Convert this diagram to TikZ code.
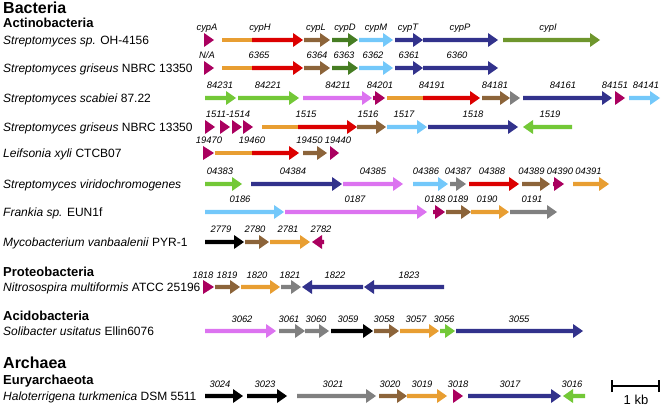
\documentclass[tikz,border=0pt]{standalone}
\usepackage{fontspec}
\setmainfont{Liberation Sans}
\definecolor{cMag}{RGB}{170,0,95}
\definecolor{cOra}{RGB}{232,158,50}
\definecolor{cRed}{RGB}{220,0,0}
\definecolor{cBro}{RGB}{140,100,58}
\definecolor{cDG}{RGB}{70,125,35}
\definecolor{cLB}{RGB}{115,200,250}
\definecolor{cNav}{RGB}{50,50,140}
\definecolor{cOli}{RGB}{110,150,45}
\definecolor{cGrn}{RGB}{115,200,55}
\definecolor{cPnk}{RGB}{220,115,240}
\definecolor{cGry}{RGB}{128,128,128}
\newcounter{lbn}
% gene arrow: color, y, tail x, tip x
\newcommand\gene[4]{%
  \pgfmathsetmacro\gnD{(#4>#3)?1:-1}%
  \pgfmathsetmacro\gnB{#4-\gnD*10}%
  \fill[#1] (#3,#2-2.2) -- (\gnB,#2-2.2) -- (\gnB,#2-7) -- (#4,#2) -- (\gnB,#2+7) -- (\gnB,#2+2.2) -- (#3,#2+2.2) -- cycle;}
% triangle only
\newcommand\gtri[4]{\fill[#1] (#3,#2-7) -- (#4,#2) -- (#3,#2+7) -- cycle;}
% plain shaft segment
\newcommand\gbar[4]{\fill[#1] (#3,#2-2.2) rectangle (#4,#2+2.2);}
% gene label
\newcommand\lab[3]{\stepcounter{lbn}\node[glab] (lb\arabic{lbn}) at (#1,#2) {#3};}
\begin{document}
\begin{tikzpicture}[x=1pt,y=-1pt,
  glab/.style={anchor=base,inner sep=0pt,font=\fontsize{9.4}{11}\selectfont\itshape},
  sp/.style={anchor=base west,inner sep=0pt,font=\fontsize{12}{14}\selectfont},
  tax/.style={anchor=base west,inner sep=0pt,font=\fontsize{13}{15}\selectfont\bfseries},
  dom/.style={anchor=base west,inner sep=0pt,font=\fontsize{16}{18}\selectfont\bfseries}]
\useasboundingbox (0,0) rectangle (669,406);
% ---- left texts
\node[dom] (bac) at (3,14) {Bacteria};
\node[tax] (act) at (3,28) {Actinobacteria};
\node[sp] (s1) at (3,44.3) {\textit{Streptomyces sp.} OH-4156};
\node[sp] (s2) at (3,72.8) {\textit{Streptomyces griseus} NBRC 13350};
\node[sp] (s3) at (3,102.3) {\textit{Streptomyces scabiei} 87.22};
\node[sp] (s4) at (3,131.3) {\textit{Streptomyces griseus} NBRC 13350};
\node[sp] (s5) at (3,157.3) {\textit{Leifsonia xyli} CTCB07};
\node[sp] (s6) at (3,188.3) {\textit{Streptomyces viridochromogenes}};
\node[sp] (s7) at (3,216.3) {\textit{Frankia sp.} EUN1f};
\node[sp] (s8) at (3,246.3) {\textit{Mycobacterium vanbaalenii} PYR-1};
\node[tax] (pro) at (3,276) {Proteobacteria};
\node[sp] (s9) at (3,291) {\textit{Nitrosospira multiformis} ATCC 25196};
\node[tax] (aci) at (3,320.7) {Acidobacteria};
\node[sp] (s10) at (3,335.3) {\textit{Solibacter usitatus} Ellin6076};
\node[dom] (arc) at (3,368) {Archaea};
\node[tax] (eur) at (3,384) {Euryarchaeota};
\node[sp] (s11) at (3,400.3) {\textit{Haloterrigena turkmenica} DSM 5511};
% ---- row 1 (y=40)
\gtri{cMag}{40}{204}{214}
\gbar{cOra}{40}{222}{252}\gene{cRed}{40}{252}{303}
\gene{cBro}{40}{304}{330}
\gene{cDG}{40}{332}{358}
\gene{cLB}{40}{359}{393}
\gene{cNav}{40}{395}{423}
\gene{cNav}{40}{423}{498}
\gene{cOli}{40}{503}{600}
\lab{207}{31}{cypA}\lab{260}{31}{cypH}\lab{316}{31}{cypL}\lab{345}{31}{cypD}
\lab{376}{31}{cypM}\lab{408}{31}{cypT}\lab{460}{31}{cypP}\lab{548}{31}{cypI}
% ---- row 2 (y=68)
\gtri{cMag}{68}{204}{214}
\gbar{cOra}{68}{222}{252}\gene{cRed}{68}{252}{303}
\gene{cBro}{68}{304}{330}
\gene{cDG}{68}{332}{358}
\gene{cLB}{68}{359}{393}
\gene{cNav}{68}{395}{423}
\gene{cNav}{68}{423}{498}
\lab{207}{59}{N/A}\lab{259}{59}{6365}\lab{317}{59}{6364}\lab{344}{59}{6363}
\lab{373}{59}{6362}\lab{409}{59}{6361}\lab{457}{59}{6360}
% ---- row 3 (y=98)
\gene{cGrn}{98}{205}{236}
\gene{cGrn}{98}{238}{299}
\gene{cPnk}{98}{303}{372}
\gene{cMag}{98}{373}{385}
\gbar{cOra}{98}{387}{423}\gene{cRed}{98}{423}{480}
\gene{cBro}{98}{482}{510}
\gtri{cGry}{98}{510}{520}
\gene{cNav}{98}{523}{612}
\gtri{cMag}{98}{615}{625}
\gene{cLB}{98}{629}{660}
\lab{220}{89}{84231}\lab{268}{89}{84221}\lab{338}{89}{84211}\lab{380}{89}{84201}
\lab{432}{89}{84191}\lab{495}{89}{84181}\lab{563}{89}{84161}\lab{615}{89}{84151}
\lab{646}{89}{84141}
% ---- row 4 (y=127)
\gtri{cMag}{127}{205}{215}
\gtri{cMag}{127}{220}{230}
\gtri{cMag}{127}{232}{242}
\gtri{cMag}{127}{243}{253}
\gbar{cOra}{127}{262}{298}\gene{cRed}{127}{298}{357}
\gene{cBro}{127}{357}{386}
\gene{cLB}{127}{387}{427}
\gene{cNav}{127}{428}{518}
\gene{cGrn}{127}{572}{523}
\lab{228}{118}{1511-1514}\lab{306}{118}{1515}\lab{368}{118}{1516}\lab{404}{118}{1517}
\lab{473}{118}{1518}\lab{550}{118}{1519}
% ---- row 5 (y=153)
\gtri{cMag}{153}{203}{214}
\gbar{cOra}{153}{215}{252}\gene{cRed}{153}{252}{299}
\gene{cBro}{153}{303}{327}
\gtri{cMag}{153}{330}{339}
\lab{209}{144}{19470}\lab{252}{144}{19460}\lab{309.5}{144}{19450}\lab{338}{144}{19440}
% ---- row 6 (y=184)
\gene{cGrn}{184}{205}{242}
\gene{cNav}{184}{251}{342}
\gene{cPnk}{184}{343}{403}
\gene{cLB}{184}{413}{448}
\gene{cGry}{184}{450}{466}
\gene{cRed}{184}{469}{519}
\gene{cBro}{184}{522}{550}
\gene{cMag}{184}{553}{564}
\gene{cOra}{184}{573}{609}
\lab{220}{175}{04383}\lab{293}{175}{04384}\lab{373}{175}{04385}\lab{426}{175}{04386}
\lab{458}{175}{04387}\lab{492}{175}{04388}\lab{531.5}{175}{04389}\lab{560}{175}{04390}
\lab{588.5}{175}{04391}
% ---- row 7 (y=212)
\gene{cLB}{212}{205}{284}
\gene{cPnk}{212}{285}{427}
\gene{cMag}{212}{433}{445}
\gene{cBro}{212}{446}{471}
\gene{cOra}{212}{471}{509}
\gene{cGry}{212}{510}{557}
\lab{240}{203}{0186}\lab{355}{203}{0187}\lab{435}{203}{0188}\lab{458}{203}{0189}
\lab{487}{203}{0190}\lab{532}{203}{0191}
% ---- row 8 (y=242)
\gene{black}{242}{205}{244}
\gene{cBro}{242}{245}{269}
\gene{cOra}{242}{270}{310}
\gene{cMag}{242}{324}{312}
\lab{221}{233}{2779}\lab{255}{233}{2780}\lab{288}{233}{2781}\lab{321}{233}{2782}
% ---- Proteobacteria (y=287)
\gtri{cMag}{287}{203}{214}
\gene{cBro}{287}{215}{240}
\gene{cOra}{287}{241}{280}
\gene{cGry}{287}{281}{301}
\gene{cNav}{287}{363}{302}
\gene{cNav}{287}{444}{364}
\lab{203}{278}{1818}\lab{227}{278}{1819}\lab{257}{278}{1820}\lab{290}{278}{1821}
\lab{335}{278}{1822}\lab{409}{278}{1823}
% ---- Acidobacteria (y=331)
\gene{cPnk}{331}{205}{276}
\gene{cGry}{331}{279}{305}
\gene{cGry}{331}{305}{329}
\gene{black}{331}{331}{373}
\gene{cBro}{331}{374}{399}
\gene{cOra}{331}{400}{439}
\gene{cGrn}{331}{440}{455}
\gene{cNav}{331}{456}{583}
\lab{242}{322}{3062}\lab{289}{322}{3061}\lab{316}{322}{3060}\lab{348}{322}{3059}
\lab{384}{322}{3058}\lab{416}{322}{3057}\lab{444}{322}{3056}\lab{519}{322}{3055}
% ---- Archaea (y=396)
\gene{black}{396}{205}{243}
\gene{black}{396}{247}{287}
\gene{cGry}{396}{297}{376}
\gene{cBro}{396}{379}{407}
\gene{cOra}{396}{407}{447}
\gtri{cMag}{396}{453}{463}
\gene{cNav}{396}{468}{561}
\gene{cGrn}{396}{585}{563}
\lab{220}{387.5}{3024}\lab{265}{387.5}{3023}\lab{333}{387.5}{3021}\lab{390}{387.5}{3020}
\lab{422}{387.5}{3019}\lab{458}{387.5}{3018}\lab{510}{387.5}{3017}\lab{572}{387.5}{3016}
% ---- scale bar
\coordinate (sbL) at (612,386);
\coordinate (sbR) at (659,386);
\draw[line width=1.8pt] (sbL) -- (sbR);
\draw[line width=1.6pt] ([yshift=-6pt]sbL) -- ([yshift=6pt]sbL);
\draw[line width=1.6pt] ([yshift=-6pt]sbR) -- ([yshift=6pt]sbR);
\node[anchor=base,inner sep=0pt,font=\fontsize{13}{15}\selectfont] (kb) at (636,404.5) {1 kb};
\end{tikzpicture}
\end{document}
